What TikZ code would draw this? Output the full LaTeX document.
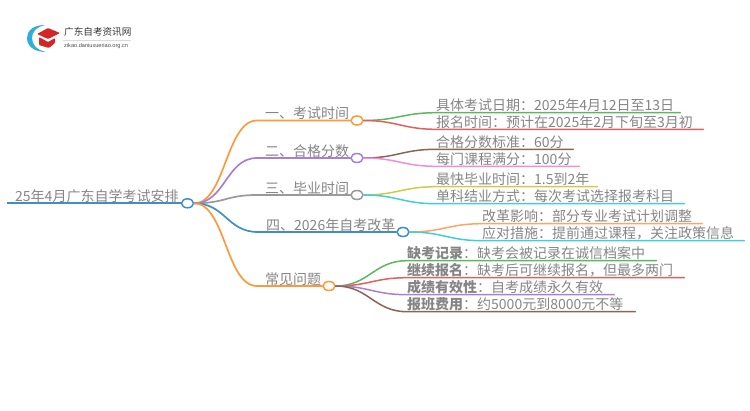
\documentclass[tikz,border=0pt]{standalone}
\usepackage{fontspec}
\setmainfont{Noto Sans CJK SC}
\newfontfamily\latinsub{Liberation Sans}
\usetikzlibrary{shapes.geometric,calc}
\definecolor{cOrange}{HTML}{FF9A3C}
\definecolor{cPurple}{HTML}{A97FD6}
\definecolor{cGray}{HTML}{9A9A9A}
\definecolor{cBlue}{HTML}{3F8ECB}
\definecolor{cGreen}{HTML}{5CB85C}
\definecolor{cRed}{HTML}{E06060}
\definecolor{cBrown}{HTML}{8D6258}
\definecolor{cPink}{HTML}{F28FD2}
\definecolor{cYellow}{HTML}{CDCB4A}
\definecolor{cCyan}{HTML}{3FCFDC}
\definecolor{cPeach}{HTML}{FFA564}
\definecolor{cText}{HTML}{858585}
\tikzset{
  x=1pt,y=-1pt,
  txt/.style={anchor=south west,inner xsep=0pt,inner ysep=.4pt,text=cText,font=\fontsize{14}{16}\selectfont,align=left},
  dotn/.style={ellipse,draw=#1,fill=white,line width=1.5pt,minimum width=12pt,minimum height=9pt,inner sep=0pt},
  conn/.style={line width=1.5pt,line cap=round},
  hub/.style={line width=1.7pt,line cap=round}
}
\newcommand{\leaf}[7]{% name, x, y, endx, text, colour, parent
  \node[txt,text width=#4pt-#2pt] (#1) at (#2,#3) {#5};
  \draw[conn,#6] (#7.east) .. controls +(33,0) and ($(#1.south west)+(-33,0)$) .. (#1.south west) -- (#1.south east);
}
\begin{document}
\begin{tikzpicture}
\useasboundingbox (0,0) rectangle (750,410);
% logo
\fill[cBlue!70!cyan] (45,25) .. controls (33,25) and (27,31) .. (27,38) .. controls (27,46) and (34,52) .. (46,52) .. controls (37,50) and (32,45) .. (32,38) .. controls (32,31) and (37,27) .. (45,25) -- cycle;
\fill[red!80!black!85!white,rounded corners=1pt] (48,28) -- (60,33) -- (48,39) -- (37,34) -- cycle;
\fill[red!80!black!85!white,rounded corners=1pt] (39,37) -- (48,42) -- (55,38) -- (55,43) -- (49,48) -- (39,45) -- cycle;
\node[anchor=west,inner sep=0pt,text=black!80,font=\fontsize{9.6}{11}\selectfont] (logot) at (64,31.5) {广东自考资讯网};
\draw[black!15,line width=.4pt] (63,40) -- (131,40);
\node[anchor=west,inner sep=0pt,text=black!70,font=\latinsub\fontsize{5.6}{6}\selectfont] (logos) at (64,46.5) {zikao.daniuxueriao.org.cn};
% root
\node[txt] (root) at (15,203.3) {25年4月广东自学考试安排};
\coordinate (rs) at (7,203.3);
\node[dotn=cBlue] (rc) at (187.5,203.3) {};
\draw[line width=2pt,cBlue] (rs) -- (rc.west);
% branches
\foreach \n/\tx/\y/\cx/\colr/\lab in {
 a/265/120.5/357/cOrange/一、考试时间,
 b/265/158/357/cPurple/二、合格分数,
 c/265/195/357/cGray/三、毕业时间,
 d/266/232/403/cBlue/四、2026年自考改革,
 e/265/286/329/cOrange/常见问题}{
  \node[txt] (\n t) at (\tx,\y) {\lab};
  \node[dotn=\colr] (\n c) at (\cx,\y) {};
  \draw[hub,\colr] (rc.east) .. controls +(31,0) and ($(\n t.south west)+(-39,0)$) .. ($(\n t.south west)+(-8,0)$) -- (\n c.west);
}
% leaves
\leaf{a1}{436}{112.7}{680}{具体考试日期：2025年4月12日至13日}{cGreen}{ac}
\leaf{a2}{436}{129.3}{703}{报名时间：预计在2025年2月下旬至3月初}{cRed}{ac}
\leaf{b1}{436}{149.3}{573}{合格分数标准：60分}{cBrown}{bc}
\leaf{b2}{436}{166.3}{579}{每门课程满分：100分}{cPink}{bc}
\leaf{c1}{436}{186.7}{597}{最快毕业时间：1.5到2年}{cYellow}{cc}
\leaf{c2}{436}{203.7}{684}{单科结业方式：每次考试选择报考科目}{cCyan}{cc}
\leaf{d1}{482}{223.7}{702}{改革影响：部分专业考试计划调整}{cPeach}{dc}
\leaf{d2}{482}{240.7}{744}{应对措施：提前通过课程，关注政策信息}{cCyan}{dc}
\leaf{e1}{407}{260.7}{656}{\textbf{缺考记录}：缺考会被记录在诚信档案中}{cGreen}{ec}
\leaf{e2}{407}{277.7}{684}{\textbf{继续报名}：缺考后可继续报名，但最多两门}{cRed}{ec}
\leaf{e3}{407}{294.7}{614}{\textbf{成绩有效性}：自考成绩永久有效}{cPurple}{ec}
\leaf{e4}{407}{311.7}{635}{\textbf{报班费用}：约5000元到8000元不等}{cBrown}{ec}
\end{tikzpicture}
\end{document}
